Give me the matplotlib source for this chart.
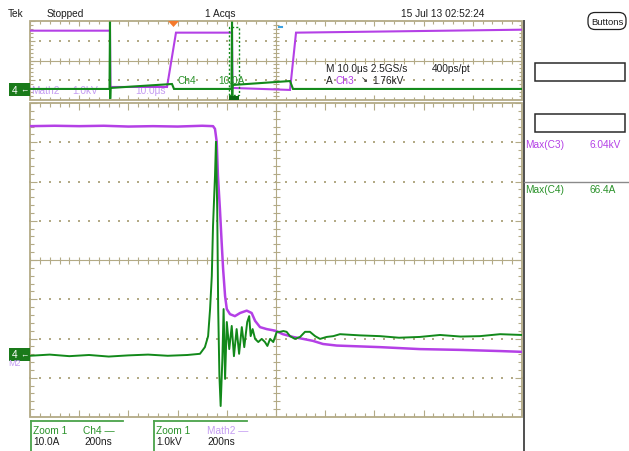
import numpy as np
import matplotlib
matplotlib.use("Agg")
import matplotlib.pyplot as plt
from matplotlib.patches import Rectangle, FancyBboxPatch, Polygon
from matplotlib.collections import LineCollection

plt.rcParams['font.family'] = ['Liberation Sans', 'DejaVu Sans']

# ---------------- acquisition record ----------------
# Zoom window (Zoom 1): time in ns, Math2 in kV, Ch4 in A
zoom_t_math2 = [0, 100, 200, 300, 400, 500, 600, 700, 744,
                752, 759, 764, 772, 779, 785, 793, 800, 813, 833,
                854, 881, 901, 915, 935, 962, 996, 1028, 1069, 1110,
                1150, 1191, 1247, 1423, 1585, 1748, 1911, 2000]
zoom_math2_kv = [5.81, 5.82, 5.81, 5.82, 5.80, 5.81, 5.80, 5.82, 5.81,
                 5.74, 5.41, 4.54, 3.70, 2.86, 2.17, 1.48, 1.15, 1.02, 0.97,
                 1.05, 1.11, 1.05, 0.85, 0.69, 0.64, 0.60, 0.51, 0.44, 0.39,
                 0.34, 0.26, 0.22, 0.18, 0.13, 0.11, 0.08, 0.06]

zoom_t_ch4 = [0, 80, 160, 240, 320, 400, 480, 560, 640,
              691, 711, 724, 732, 739, 744, 752, 756, 761, 765,
              770, 775, 782, 787, 793, 800, 810, 820, 829, 840,
              850, 861, 871, 883, 891, 897, 905, 915, 928, 942,
              955, 965, 976, 989, 1003, 1016, 1030, 1043, 1057, 1077,
              1098, 1118, 1138, 1159, 1179, 1206, 1233, 1260, 1340, 1423,
              1500, 1585, 1667, 1750, 1829, 1911, 2000]
zoom_ch4_a = [-0.4, -0.1, -0.5, -0.2, -0.6, -0.3, -0.1, -0.4, -0.2,
              0.1, 1.8, 4.6, 11.5, 19.9, 32.7, 45.4, 54.1, 37.0, 11.5,
              -5.6, -13.2, -1.2, 11.5, -6.3, 8.2, 1.3, 7.2, -0.5, 6.4,
              0.1, 6.9, 1.8, 8.2, 9.7, 4.6, 6.4, 3.9, 3.1, 3.9,
              3.1, 2.1, 3.9, 3.1, 5.7, 5.7, 5.9, 5.7, 4.6, 3.9,
              4.4, 5.7, 5.7, 4.6, 3.9, 4.4, 4.6, 5.1, 4.8, 4.6,
              4.2, 4.4, 4.9, 4.5, 4.6, 5.1, 4.9]

# Full record overview: time in us
ov_t_math2 = [0, 16.26, 16.36, 27.85, 29.67, 41.06, 41.16, 52.85, 54.07, 100]
ov_math2_kv = [5.9, 5.9, 0.2, 0.2, 5.7, 5.7, 0.1, -0.1, 5.7, 6.0]
ov_t_ch4 = [0, 16.16, 16.26, 16.30, 16.36, 28.86, 29.27, 40.95, 41.06,
            41.10, 41.16, 52.85, 53.46, 100]
ov_ch4_a = [0, 0, 68, -10, 1, 5, 0, 0, 68, -10, 4, 8, 0, 0]

zoom_window_us = (40.5, 42.5)
trigger_us = 29.3

# vertical settings
math2_kv_per_div = 1.0
ch4_a_per_div = 10.0
ground_div = -2.4
ov_kv_per_div = 2.0
ov_a_per_div = 20.0
ov_ground_div = -1.44

# readouts
max_c3 = "6.04kV"
max_c4 = "66.4A"

# ---------------- styling ----------------
W, H = 629, 452
GRID = '#b3aa86'
PURPLE = '#b440e6'
LAVENDER = '#c49cf2'
GREEN = '#12891a'
TGREEN = '#2a922a'
DARK = '#1e1e1e'
FS = 7.3

fig = plt.figure(figsize=(W / 100, H / 100), dpi=100)
fig.patch.set_facecolor('white')


def px_axes(x0, y0, x1, y1, z=1):
    ax = fig.add_axes([x0 / W, 1 - y1 / H, (x1 - x0) / W, (y1 - y0) / H], zorder=z)
    ax.set_axis_off()
    return ax


def graticule(ax, nx, ny, wpx, hpx, subx=5, suby=5, minor=4, major=7, cross=3.5):
    T = ax.transAxes
    fx, fy = 1.0 / wpx, 1.0 / hpx
    xs = np.arange(nx * subx + 1) / (nx * subx)
    for j in range(1, ny):
        if 2 * j == ny:
            continue
        ax.scatter(xs, np.full_like(xs, j / ny), s=1.3, marker='s', color=GRID,
                   linewidths=0, transform=T, zorder=1, clip_on=False)
    segs = [[(0, 0.5), (1, 0.5)], [(0.5, 0), (0.5, 1)]]
    for k in range(nx * subx + 1):
        x = k / (nx * subx)
        L = (major if k % subx == 0 else minor) * fy
        segs += [[(x, 0), (x, L)], [(x, 1), (x, 1 - L)]]
        segs.append([(x, 0.5 - cross * fy), (x, 0.5 + cross * fy)])
    for k in range(ny * suby + 1):
        y = k / (ny * suby)
        L = (major if k % suby == 0 else minor) * fx
        segs += [[(0, y), (L, y)], [(1, y), (1 - L, y)]]
        segs.append([(0.5 - cross * fx, y), (0.5 + cross * fx, y)])
    ax.add_collection(LineCollection(segs, colors=GRID, linewidths=0.8,
                                     transform=T, zorder=1))
    ax.add_patch(Rectangle((0, 0), 1, 1, transform=T, fill=False, ec=GRID,
                           lw=1.3, zorder=1, clip_on=False))


# ---------------- overview panel ----------------
ax_ov = px_axes(30, 22, 522, 101)
ax_ov.set_xlim(0, 100)
ax_ov.set_ylim(-2, 2)
graticule(ax_ov, 10, 4, 492, 79, subx=5, suby=5, minor=3, major=5, cross=3)

ov_m = np.array(ov_math2_kv) / ov_kv_per_div + ov_ground_div
ov_c = np.array(ov_ch4_a) / ov_a_per_div + ov_ground_div
ax_ov.plot(ov_t_math2, ov_m, color=PURPLE, lw=1.5, zorder=4, solid_joinstyle='miter')
ax_ov.plot(ov_t_ch4, ov_c, color=GREEN, lw=1.5, zorder=5, solid_joinstyle='miter')

# zoom window marker
zw0, zw1 = zoom_window_us
ax_ov.add_patch(Rectangle((zw0, -1.75), zw1 - zw0, 3.45, fill=False, ec=GREEN,
                          lw=1.0, ls=(0, (1.5, 1.5)), zorder=6))
ax_ov.add_patch(Rectangle((zw0, -2.0), zw1 - zw0, 0.2, fc='#0c6a12', ec='none',
                          zorder=6, clip_on=False))

# ---------------- zoom panel ----------------
ax = px_axes(30, 104, 522, 418)
ax.set_xlim(0, 2000)
ax.set_ylim(-4, 4)
graticule(ax, 10, 8, 492, 314)

m_div = np.array(zoom_math2_kv) / math2_kv_per_div + ground_div
c_div = np.array(zoom_ch4_a) / ch4_a_per_div + ground_div
ax.plot(zoom_t_math2, m_div, color=PURPLE, lw=1.8, zorder=4)
ax.plot(zoom_t_ch4, c_div, color=GREEN, lw=1.4, zorder=5)

# ---------------- overlay: readouts and frame ----------------
ov = fig.add_axes([0, 0, 1, 1], zorder=10)
ov.set_xlim(0, W)
ov.set_ylim(H, 0)
ov.set_axis_off()
ov.patch.set_alpha(0)


def txt(x, y, s, color=DARK, size=FS, a=None, **kw):
    (a or ov).text(x, y, s, color=color, fontsize=size, va='center', ha='left',
                   transform=ov.transData, clip_on=False, **kw)


# header
txt(8, 14, "Tek")
txt(47, 14, "Stopped")
txt(205, 14, "1 Acqs")
txt(401, 14, "15 Jul 13 02:52:24")
ov.add_patch(FancyBboxPatch((588, 13.5), 38, 17,
                            boxstyle="round,pad=0,rounding_size=7",
                            fc='white', ec='#202020', lw=0.9))
ov.text(607, 22.5, "Buttons", fontsize=6.8, color=DARK, ha='center', va='center')

# trigger marker
ov.add_patch(Polygon([(168, 22), (179, 22), (173.5, 28)], closed=True,
                     fc='#f47a2c', ec='none'))
ov.plot([279, 282], [28, 28], color='#3aa0e0', lw=1.5)

# overview labels (behind traces: drawn into the overview axes)
for x, s in [(31, "Math2"), (72, "1.0kV"), (135, "10.0\u03bcs")]:
    ax_ov.text(x, 91.5, s, color=LAVENDER, fontsize=FS, va='center', ha='left',
               transform=ov.transData, zorder=3, clip_on=False)
txt(178, 80.5, "Ch4", color=TGREEN)
txt(218, 80.5, "10.0A", color=TGREEN)
txt(326, 68.5, "M 10.0\u03bcs 2.5GS/s")
txt(432, 68.5, "400ps/pt")
txt(326, 81, "A")
txt(335, 81, "Ch3", color=PURPLE)
txt(361, 81, "\u2198", size=6)
txt(372, 81, "1.76kV")

# channel ground markers
ov.add_patch(Rectangle((9, 84), 21, 12.5, fc='#1a7a1a', ec='none'))
txt(12, 90.5, "4", color='white')
txt(20, 90.5, "\u2190", color='white', size=6)
ov.add_patch(Rectangle((9, 349), 21, 12.5, fc='#1a7a1a', ec='none'))
txt(12, 355.5, "4", color='white')
txt(20, 355.5, "\u2190", color='white', size=6)
txt(8, 364, "M2", color=LAVENDER, size=6.5)

# right side frame and readouts
ov.plot([523.5, 523.5], [22, 452], color='#505050', lw=1.4)
ov.add_patch(Rectangle((535, 63.5), 90, 18, fill=False, ec='#2a2a2a', lw=1.1))
ov.add_patch(Rectangle((535, 114.5), 90, 18, fill=False, ec='#2a2a2a', lw=1.1))
txt(525, 145, "Max(C3)", color=PURPLE)
txt(589, 145, max_c3, color=PURPLE)
ov.plot([523.5, 629], [182.7, 182.7], color='#8a8a8a', lw=1.0)
txt(525, 190.5, "Max(C4)", color=TGREEN)
txt(589, 190.5, max_c4, color=TGREEN)

# bottom zoom readouts
BOXG = '#4aa24a'
for x0, x1 in [(31, 123), (153.5, 246.5)]:
    ov.plot([x0, x1], [422, 422], color=BOXG, lw=1.3)
    ov.plot([x0, x0], [422, 452], color=BOXG, lw=1.3)
txt(33, 431.5, "Zoom 1", color=TGREEN)
txt(83, 431.5, "Ch4 \u2014", color=TGREEN)
txt(33, 442.5, "10.0A")
txt(84, 442.5, "200ns")
txt(156, 431.5, "Zoom 1", color=TGREEN)
txt(207, 431.5, "Math2 \u2014", color=LAVENDER)
txt(156, 442.5, "1.0kV")
txt(207, 442.5, "200ns")

fig.savefig("out.png", dpi=100, facecolor='white')
